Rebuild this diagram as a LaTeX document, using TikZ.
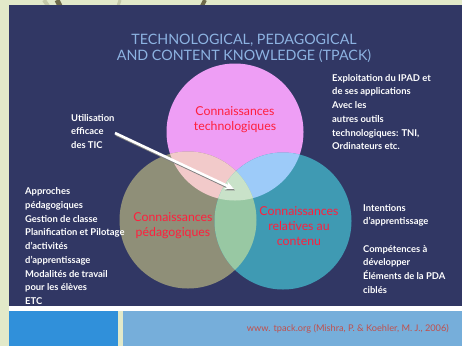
\documentclass[tikz,border=0pt]{standalone}
\usepackage{fontspec}
\setmainfont{Lato}
\usetikzlibrary{arrows.meta}
\definecolor{bgpale}{HTML}{E2E9C9}
\definecolor{navy}{HTML}{313764}
\definecolor{titleblue}{HTML}{8DB3E2}
\definecolor{swoosh}{HTML}{6E6A4A}
\definecolor{swooshlight}{HTML}{C4C9A8}
\definecolor{ctech}{HTML}{EE9EF5}
\definecolor{cped}{HTML}{8F8F78}
\definecolor{ccont}{HTML}{3F9AB3}
\definecolor{ctp}{HTML}{F2CACA}
\definecolor{ctc}{HTML}{9DCBF9}
\definecolor{cpc}{HTML}{98C8A3}
\definecolor{call}{HTML}{C9E2C9}
\definecolor{labred}{HTML}{FF1F3D}
\definecolor{barleft}{HTML}{3090DA}
\definecolor{barright}{HTML}{76AEDA}
\definecolor{citered}{HTML}{C0504D}
\begin{document}
\begin{tikzpicture}[x=1pt,y=-1pt,
  circlab/.style={text=labred,align=center,font=\fontsize{12.3}{15}\selectfont,inner sep=0pt},
  whitetext/.style={text=white,align=left,anchor=north west,inner sep=0pt,
    font=\fontsize{9.4}{13.75}\selectfont\bfseries},
  titletext/.style={text=titleblue,align=center,font=\fontsize{14.3}{16}\selectfont,inner sep=0pt}]
\useasboundingbox (0,0) rectangle (462,346);
\fill[bgpale] (0,0) rectangle (462,346);
% top swooshes
\draw[swooshlight,line width=4pt] (44,0) -- (48,6);
\draw[swoosh,line width=5pt] (57,0) -- (60,6);
\draw[swooshlight,line width=3pt] (120,0) -- (118,6);
\draw[swoosh,line width=4pt] (205,0) -- (202,6);
% main panel
\fill[navy] (9,5) rectangle (462,306);
\fill[white] (9,306) rectangle (462,311);
\fill[barleft] (9,311) rectangle (118,346);
\fill[barright] (123,311) rectangle (462,346);
% title
\node[titletext] (title) at (244,48) {TECHNOLOGICAL, PEDAGOGICAL\\AND CONTENT KNOWLEDGE (TPACK)};
% circles
\coordinate (T) at (235,132);
\coordinate (P) at (188,220);
\coordinate (C) at (283,221);
\def\rr{68.5}
\fill[ctech] (T) circle[radius=\rr];
\fill[cped] (P) circle[radius=\rr];
\fill[ccont] (C) circle[radius=\rr];
\begin{scope}\clip (T) circle[radius=\rr]; \fill[ctp] (P) circle[radius=\rr];\end{scope}
\begin{scope}\clip (T) circle[radius=\rr]; \fill[ctc] (C) circle[radius=\rr];\end{scope}
\begin{scope}\clip (P) circle[radius=\rr]; \fill[cpc] (C) circle[radius=\rr];\end{scope}
\begin{scope}\clip (T) circle[radius=\rr]; \clip (P) circle[radius=\rr]; \fill[call] (C) circle[radius=\rr];\end{scope}
% circle labels
\node[circlab] (lt) at (235,120) {Connaissances\\technologiques};
\node[circlab] (lp) at (173,226) {Connaissances\\pédagogiques};
\node[circlab] (lc) at (299,226.5) {Connaissances\\relatives au\\contenu};
% side texts
\node[whitetext] (use) at (71,114) {Utilisation\\efficace\\des TIC};
\node[whitetext] (ped) at (25,187.5) {Approches\\pédagogiques\\Gestion de classe\\Planification et Pilotage\\d’activités\\d’apprentissage\\Modalités de travail\\pour les élèves\\ETC};
\node[whitetext] (tech) at (332,74) {Exploitation du IPAD et\\de ses applications\\Avec les\\autres outils\\technologiques: TNI,\\Ordinateurs etc.};
\node[whitetext] (intent) at (363,204) {Intentions\\d’apprentissage};
\node[whitetext] (comp) at (363,245) {Compétences à\\développer\\Éléments de la PDA\\ciblés};
% arrow
\coordinate (astart) at (115,133);
\coordinate (aend) at (234,189);
\draw[black!50,line width=2.6pt,-{Stealth[length=9pt,width=8pt]}] ([shift={(1,1.5)}]astart) -- ([shift={(1,1.5)}]aend);
\draw[white,line width=2.6pt,-{Stealth[length=9pt,width=8pt]}] (astart) -- (aend);
% citation
\node[text=citered,anchor=east,inner sep=0pt,font=\fontsize{9.2}{10}\selectfont] (cite) at (449,329) {www. tpack.org (Mishra, P. \& Koehler, M. J., 2006)};
\end{tikzpicture}
\end{document}
